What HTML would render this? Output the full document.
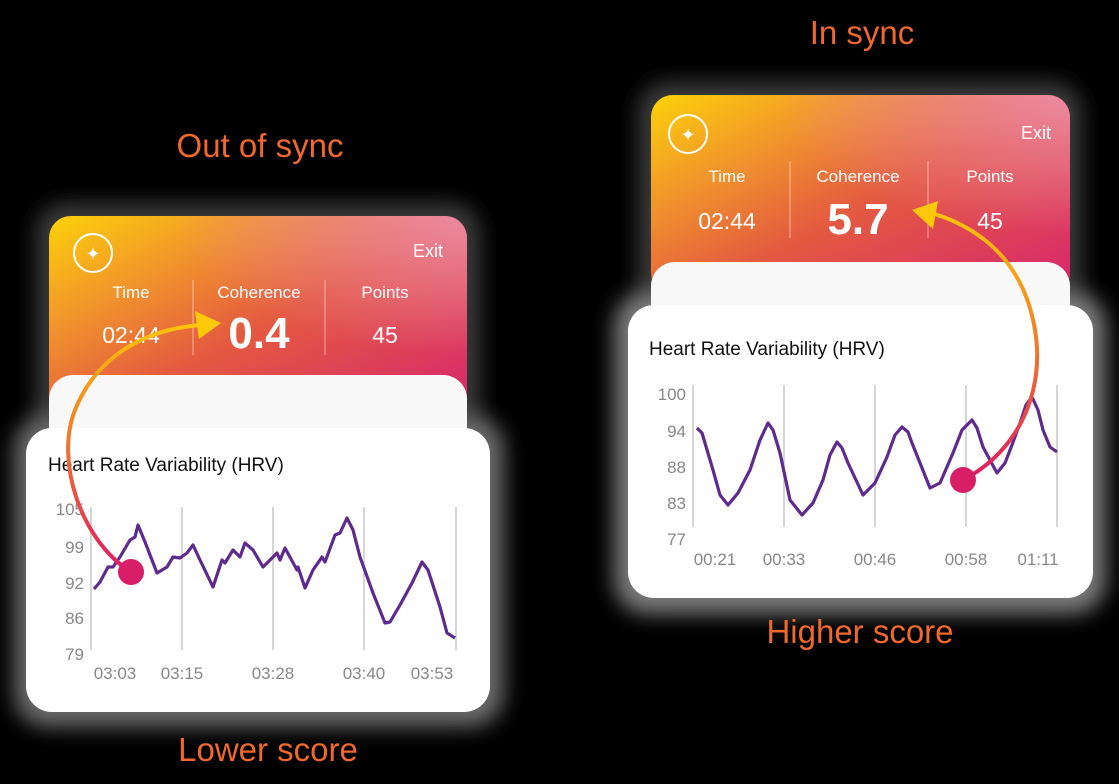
<!DOCTYPE html>
<html><head><meta charset="utf-8"><style>
html,body{margin:0;padding:0;background:#000;}
svg{display:block;font-family:"Liberation Sans",sans-serif;}
</style></head><body>
<svg width="1119" height="784" viewBox="0 0 1119 784" xmlns="http://www.w3.org/2000/svg">
<defs>
<linearGradient id="hg" x1="0" y1="0" x2="1" y2="0.9">
<stop offset="0" stop-color="#fdd20a"/><stop offset="0.3" stop-color="#f0902e"/><stop offset="0.55" stop-color="#e45a40"/><stop offset="1" stop-color="#d82a6c"/></linearGradient>
<radialGradient id="pk" cx="1" cy="0" r="0.7"><stop offset="0" stop-color="#ec8fae" stop-opacity="0.9"/><stop offset="1" stop-color="#ec8fae" stop-opacity="0"/></radialGradient>
<linearGradient id="a1" x1="0" y1="0" x2="0" y2="1"><stop offset="0" stop-color="#fbc40a"/><stop offset="0.45" stop-color="#f07a2a"/><stop offset="1" stop-color="#de1a64"/></linearGradient>
<linearGradient id="a2" x1="0" y1="0" x2="0" y2="1"><stop offset="0" stop-color="#fbc40a"/><stop offset="0.5" stop-color="#f07a2a"/><stop offset="1" stop-color="#de1a64"/></linearGradient>
<filter id="bl" x="-20%" y="-20%" width="140%" height="140%"><feGaussianBlur stdDeviation="10"/></filter>
</defs>
<rect width="1119" height="784" fill="#000"/>
<rect x="36" y="203" width="444" height="240" rx="30" fill="#3a3a3a" filter="url(#bl)"/>
<rect x="14" y="415" width="490" height="312" rx="34" fill="#6a6a6a" filter="url(#bl)"/>
<rect x="638" y="82" width="444" height="240" rx="30" fill="#3a3a3a" filter="url(#bl)"/>
<rect x="614" y="292" width="492" height="322" rx="34" fill="#7a7a7a" filter="url(#bl)"/>

<text x="260" y="157" font-size="33" fill="#f0682c" text-anchor="middle">Out of sync</text>
<rect x="49" y="216" width="418" height="200" rx="22" fill="url(#hg)"/>
<rect x="49" y="216" width="418" height="200" rx="22" fill="url(#pk)"/>
<circle cx="93" cy="253" r="19" fill="none" stroke="#fff" stroke-width="2"/>
<text x="93" y="260" font-size="18" fill="#fff" text-anchor="middle">✦</text>
<text x="443" y="257" font-size="18" fill="#fff" text-anchor="end">Exit</text>
<text x="131" y="298" font-size="17" fill="#fff" text-anchor="middle">Time</text>
<text x="259" y="298" font-size="17" fill="#fff" text-anchor="middle">Coherence</text>
<text x="385" y="298" font-size="17" fill="#fff" text-anchor="middle">Points</text>
<line x1="193" y1="280" x2="193" y2="355" stroke="#fff" stroke-opacity="0.5"/>
<line x1="325" y1="280" x2="325" y2="355" stroke="#fff" stroke-opacity="0.5"/>
<text x="131" y="343" font-size="23" fill="#fff" text-anchor="middle">02:44</text>
<text x="259" y="348" font-size="44" font-weight="bold" fill="#fff" text-anchor="middle">0.4</text>
<text x="385" y="343" font-size="23" fill="#fff" text-anchor="middle">45</text>
<rect x="49" y="375" width="418" height="80" rx="24" fill="#f8f8f8"/>
<rect x="26" y="428" width="464" height="284" rx="26" fill="#fff"/>
<text x="48" y="471" font-size="19" fill="#111">Heart Rate Variability (HRV)</text>
<g stroke="#bbb" stroke-width="1.2">
<line x1="91" y1="507" x2="91" y2="650"/><line x1="182" y1="507" x2="182" y2="650"/><line x1="273" y1="507" x2="273" y2="650"/><line x1="364" y1="507" x2="364" y2="650"/><line x1="456" y1="507" x2="456" y2="650"/></g>
<g font-size="17" fill="#888" text-anchor="end">
<text x="84" y="515">105</text><text x="84" y="553">99</text><text x="84" y="589">92</text><text x="84" y="624">86</text><text x="84" y="660">79</text></g>
<g font-size="17" fill="#888" text-anchor="middle">
<text x="115" y="679">03:03</text><text x="182" y="679">03:15</text><text x="273" y="679">03:28</text><text x="364" y="679">03:40</text><text x="432" y="679">03:53</text></g>
<polyline fill="none" stroke="#5e2a8e" stroke-width="3.2" stroke-linejoin="round" points="94,589 100,582 108,567 113,567 120,557 130,540 135,537 138,525 145,542 157,573 167,567 173,557 180,558 187,553 193,545 200,560 213,587 222,560 225,563 233,550 240,557 245,543 253,550 263,567 277,553 280,560 285,548 297,570 298,567 305,588 313,570 322,557 325,562 335,535 340,533 347,518 353,530 360,557 373,593 385,623 390,622 400,605 412,583 422,562 428,570 440,607 447,633 455,638"/>
<path d="M131,572 C80,540 55,460 75,410 C95,360 140,330 200,325" fill="none" stroke="url(#a1)" stroke-width="4"/>
<polygon points="221,323 195,311 199,339" fill="#fbc80a"/>
<circle cx="131" cy="572" r="13" fill="#d81e66"/>
<text x="268" y="761" font-size="33" fill="#f0682c" text-anchor="middle">Lower score</text>

<text x="862" y="44" font-size="33" fill="#f0682c" text-anchor="middle">In sync</text>
<rect x="651" y="95" width="419" height="200" rx="22" fill="url(#hg)"/>
<rect x="651" y="95" width="419" height="200" rx="22" fill="url(#pk)"/>
<circle cx="688" cy="134" r="19" fill="none" stroke="#fff" stroke-width="2"/>
<text x="688" y="141" font-size="18" fill="#fff" text-anchor="middle">✦</text>
<text x="1051" y="139" font-size="18" fill="#fff" text-anchor="end">Exit</text>
<text x="727" y="182" font-size="17" fill="#fff" text-anchor="middle">Time</text>
<text x="858" y="182" font-size="17" fill="#fff" text-anchor="middle">Coherence</text>
<text x="990" y="182" font-size="17" fill="#fff" text-anchor="middle">Points</text>
<line x1="790" y1="161" x2="790" y2="238" stroke="#fff" stroke-opacity="0.5"/>
<line x1="928" y1="161" x2="928" y2="238" stroke="#fff" stroke-opacity="0.5"/>
<text x="727" y="229" font-size="23" fill="#fff" text-anchor="middle">02:44</text>
<text x="858" y="234" font-size="44" font-weight="bold" fill="#fff" text-anchor="middle">5.7</text>
<text x="990" y="229" font-size="23" fill="#fff" text-anchor="middle">45</text>
<rect x="651" y="262" width="419" height="80" rx="24" fill="#f8f8f8"/>
<rect x="628" y="305" width="465" height="293" rx="26" fill="#fff"/>
<text x="649" y="355" font-size="19" fill="#111">Heart Rate Variability (HRV)</text>
<g stroke="#bbb" stroke-width="1.2">
<line x1="693" y1="385" x2="693" y2="527"/><line x1="784" y1="385" x2="784" y2="527"/><line x1="875" y1="385" x2="875" y2="527"/><line x1="966" y1="385" x2="966" y2="527"/><line x1="1057" y1="385" x2="1057" y2="527"/></g>
<g font-size="17" fill="#888" text-anchor="end">
<text x="686" y="400">100</text><text x="686" y="437">94</text><text x="686" y="473">88</text><text x="686" y="509">83</text><text x="686" y="545">77</text></g>
<g font-size="17" fill="#888" text-anchor="middle">
<text x="715" y="565">00:21</text><text x="784" y="565">00:33</text><text x="875" y="565">00:46</text><text x="966" y="565">00:58</text><text x="1038" y="565">01:11</text></g>
<polyline fill="none" stroke="#5e2a8e" stroke-width="3.2" stroke-linejoin="round" points="697,428 702,433 713,470 720,495 728,505 738,493 750,470 760,440 768,423 773,430 780,453 790,500 802,515 813,503 823,480 830,455 837,442 842,448 848,463 863,495 875,483 887,457 895,435 902,427 908,432 912,443 930,488 940,483 953,453 962,430 972,420 977,428 983,447 997,473 1005,463 1012,445 1020,423 1026,405 1032,397 1038,410 1043,430 1050,447 1057,452"/>
<path d="M963,480 C1020,450 1045,390 1035,330 C1025,270 990,232 935,214" fill="none" stroke="url(#a2)" stroke-width="4"/>
<polygon points="912,210 938,201 933,229" fill="#fbc80a"/>
<circle cx="963" cy="480" r="13" fill="#d81e66"/>
<text x="860" y="643" font-size="33" fill="#f0682c" text-anchor="middle">Higher score</text>
</svg>
</body></html>
